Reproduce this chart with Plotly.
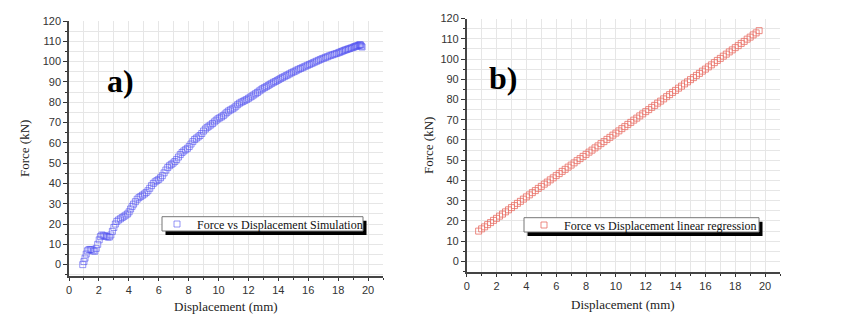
import plotly.graph_objects as go

# ---- data: (a) simulation ----
sim_x = [0.92, 1.0, 1.07, 1.15, 1.23, 1.33, 1.43, 1.52, 1.62, 1.72, 1.82, 1.92, 2.02, 2.1, 2.2,
         2.3, 2.4, 2.5, 2.6, 2.7, 2.8, 2.9, 3.0, 3.1, 3.2, 3.32, 3.44, 3.56, 3.68, 3.8, 3.92,
         4.02, 4.12, 4.22, 4.32, 4.44, 4.56, 4.68, 4.8, 4.92, 5.04, 5.16, 5.28, 5.4, 5.52,
         5.64, 5.76, 5.88, 6.0, 6.12, 6.24, 6.36, 6.48, 6.6, 6.72, 6.84, 6.96, 7.08, 7.2,
         7.32, 7.44, 7.56, 7.68, 7.8, 7.92, 8.04, 8.16, 8.28, 8.4, 8.52, 8.64, 8.76, 8.88,
         9.0, 9.12, 9.24, 9.36, 9.48, 9.6, 9.72, 9.84, 9.96, 10.08, 10.2, 10.32, 10.44, 10.56,
         10.68, 10.8, 10.92, 11.04, 11.16, 11.28, 11.4, 11.52, 11.64, 11.76, 11.88, 12.0,
         12.12, 12.24, 12.36, 12.48, 12.6, 12.72, 12.84, 12.96, 13.08, 13.2, 13.32, 13.44,
         13.56, 13.68, 13.8, 13.92, 14.04, 14.16, 14.28, 14.4, 14.52, 14.64, 14.76, 14.88,
         15.0, 15.12, 15.24, 15.36, 15.48, 15.6, 15.72, 15.84, 15.96, 16.08, 16.2, 16.32,
         16.44, 16.56, 16.68, 16.8, 16.92, 17.04, 17.16, 17.28, 17.4, 17.52, 17.64, 17.76,
         17.88, 18.0, 18.1, 18.2, 18.3, 18.4, 18.5, 18.6, 18.7, 18.8, 18.9, 19.0, 19.08,
         19.16, 19.24, 19.32, 19.4, 19.45, 19.5, 19.55, 19.6]
sim_y = [0.0, 1.5, 3.2, 5.2, 6.8, 7.4, 7.5, 7.3, 6.8, 6.6, 8.0, 10.0, 12.2, 13.8, 14.6,
         14.4, 14.1, 13.9, 13.6, 13.6, 14.6, 16.4, 18.3, 20.0, 21.3, 22.0, 22.6, 23.2, 23.8,
         24.4, 25.0, 26.0, 27.4, 28.7, 29.8, 31.0, 32.2, 33.0, 33.6, 34.2, 34.8, 35.5, 36.4,
         37.6, 38.9, 40.0, 40.8, 41.4, 42.0, 42.8, 43.8, 45.2, 46.6, 47.8, 48.7, 49.4, 50.0,
         50.8, 51.8, 53.0, 54.2, 55.2, 56.0, 56.6, 57.3, 58.2, 59.4, 60.6, 61.6, 62.3, 62.9,
         63.6, 64.6, 65.8, 66.8, 67.6, 68.2, 68.8, 69.5, 70.3, 71.1, 71.8, 72.3, 72.8, 73.4,
         74.2, 75.0, 75.7, 76.2, 76.7, 77.2, 78.0, 78.8, 79.5, 80.0, 80.4, 80.9, 81.3, 81.9,
         82.5, 83.0, 83.6, 84.2, 84.8, 85.5, 86.1, 86.7, 87.2, 87.7, 88.2, 88.8, 89.3, 89.8,
         90.2, 90.7, 91.2, 91.7, 92.2, 92.6, 93.1, 93.5, 94.0, 94.5, 94.9, 95.3, 95.8, 96.2,
         96.6, 97.0, 97.4, 97.8, 98.2, 98.6, 99.0, 99.4, 99.8, 100.2, 100.6, 101.0, 101.4,
         101.7, 102.1, 102.4, 102.8, 103.1, 103.4, 103.7, 104.0, 104.3, 104.6, 104.9, 105.2,
         105.5, 105.8, 106.0, 106.3, 106.5, 106.8, 107.0, 107.3, 107.5, 107.7, 107.9, 108.1,
         108.3, 108.2, 107.6, 107.2]

# ---- data: (b) linear regression ----
reg_x = [round(0.8 + 0.2 * k, 1) for k in range(95)]
reg_y = [15.0, 16.1, 17.1, 18.2, 19.2, 20.3, 21.3, 22.4, 23.4, 24.5, 25.5, 26.6, 27.6, 28.7,
         29.7, 30.8, 31.9, 32.9, 34.0, 35.0, 36.1, 37.1, 38.2, 39.2, 40.3, 41.3, 42.4, 43.4,
         44.5, 45.5, 46.6, 47.6, 48.7, 49.8, 50.8, 51.9, 52.9, 54.0, 55.0, 56.1, 57.1, 58.2,
         59.2, 60.3, 61.3, 62.4, 63.4, 64.5, 65.6, 66.6, 67.7, 68.7, 69.8, 70.8, 71.9, 72.9,
         74.0, 75.0, 76.1, 77.1, 78.2, 79.2, 80.3, 81.4, 82.4, 83.5, 84.5, 85.6, 86.6, 87.7,
         88.7, 89.8, 90.8, 91.9, 92.9, 94.0, 95.0, 96.1, 97.1, 98.2, 99.3, 100.3, 101.4,
         102.4, 103.5, 104.5, 105.6, 106.6, 107.7, 108.7, 109.8, 110.8, 111.9, 112.9, 114.0]

x_tick_vals = [0, 2, 4, 6, 8, 10, 12, 14, 16, 18, 20]
y_tick_vals = [0, 10, 20, 30, 40, 50, 60, 70, 80, 90, 100, 110, 120]
x_title = "Displacement (mm)"
y_title = "Force (kN)"
name_a = "Force vs Displacement Simulation"
name_b = "Force vs Displacement linear regression"

# the page body has an 8px margin: build the figure 8px smaller and offset coords
OFF = 8
W, H = 845 - OFF, 320 - OFF
def px(x):
    return (x - OFF) / W
def py(y):
    return 1 - (y - OFF) / H

fig = go.Figure()
fig.add_trace(go.Scatter(
    x=sim_x, y=sim_y, mode="markers", name=name_a, xaxis="x", yaxis="y",
    marker=dict(symbol="square-open", size=6, color="rgba(80,80,240,0.6)",
                line=dict(width=1)),
    legend="legend"))
fig.add_trace(go.Scatter(
    x=reg_x, y=reg_y, mode="markers", name=name_b, xaxis="x2", yaxis="y2",
    marker=dict(symbol="square-open", size=6, color="rgba(232,110,100,0.8)",
                line=dict(width=1)),
    legend="legend2"))

tickfont = dict(family="Liberation Sans, Arial, sans-serif", size=11, color="#333")
gridc = "#e6e6e6"

def xax(domain, anchor):
    return dict(domain=domain, anchor=anchor, range=[0, 21], tickvals=x_tick_vals,
                automargin=False,
                ticks="outside", ticklen=3, tickwidth=1, tickcolor="#333",
                showline=True, linecolor="#444", linewidth=1.5,
                showgrid=True, gridcolor=gridc, gridwidth=1, zeroline=False,
                tickfont=tickfont,
                minor=dict(dtick=1, showgrid=True, gridcolor=gridc, ticks="outside",
                           ticklen=2, tickcolor="#333"))

def yax(domain, anchor, rng):
    return dict(domain=domain, anchor=anchor, range=rng, tickvals=y_tick_vals,
                automargin=False,
                ticks="outside", ticklen=4, tickwidth=1, tickcolor="#333",
                showline=True, linecolor="#444", linewidth=1.5,
                showgrid=True, gridcolor=gridc, gridwidth=1, zeroline=False,
                tickfont=tickfont,
                minor=dict(dtick=5, showgrid=True, gridcolor=gridc, ticks="outside",
                           ticklen=2, tickcolor="#333"))

def mirror_x(over, anchor):
    return dict(overlaying=over, anchor=anchor, side="top", range=[0, 21],
                automargin=False,
                tickvals=x_tick_vals, ticks="inside", ticklen=4, tickcolor="#333",
                showticklabels=False, showgrid=False, zeroline=False,
                showline=True, linecolor="#444", linewidth=1.5,
                minor=dict(dtick=1, ticks="inside", ticklen=2, tickcolor="#333"))

def mirror_y(over, anchor, rng):
    return dict(overlaying=over, anchor=anchor, side="right", range=rng,
                automargin=False,
                tickvals=y_tick_vals, ticks="inside", ticklen=4, tickcolor="#333",
                showticklabels=False, showgrid=False, zeroline=False,
                showline=True, linecolor="#444", linewidth=1.5,
                minor=dict(dtick=5, ticks="inside", ticklen=2, tickcolor="#333"))

ya_rng = [-5.6, 120]
yb_rng = [-5.2, 120]
dom_xa = [px(69), px(383)]
dom_xb = [px(466.7), px(780)]
dom_ya = [py(276), py(21)]
dom_yb = [py(272), py(18.5)]

serif = "Liberation Serif, Times New Roman, serif"

fig.update_layout(
    width=W, height=H,
    margin=dict(l=0, r=0, t=0, b=0, autoexpand=False),
    paper_bgcolor="white", plot_bgcolor="white",
    xaxis=xax(dom_xa, "y"),
    yaxis=yax(dom_ya, "x", ya_rng),
    xaxis2=xax(dom_xb, "y2"),
    yaxis2=yax(dom_yb, "x2", yb_rng),
    xaxis3=mirror_x("x", "y"),
    yaxis3=mirror_y("y", "x", ya_rng),
    xaxis4=mirror_x("x2", "y2"),
    yaxis4=mirror_y("y2", "x2", yb_rng),
    legend=dict(x=px(157), y=py(224), xanchor="left", yanchor="middle",
                bgcolor="rgba(0,0,0,0)", borderwidth=0,
                font=dict(family=serif, size=12, color="#111"),
                itemwidth=30, tracegroupgap=0),
    legend2=dict(x=px(524), y=py(225), xanchor="left", yanchor="middle",
                 bgcolor="rgba(0,0,0,0)", borderwidth=0,
                 font=dict(family=serif, size=12, color="#111"),
                 itemwidth=30, tracegroupgap=0),
    showlegend=True,
)

# legend boxes with drop shadow
for (x0, y0, x1, y1) in [(162, 216.7, 363, 231), (524, 217.7, 759, 232)]:
    fig.add_shape(type="rect", xref="paper", yref="paper",
                  x0=px(x0 + 3.5), x1=px(x1 + 3.5), y0=py(y1 + 4), y1=py(y0 + 4),
                  fillcolor="black", line=dict(width=0), layer="above")
    fig.add_shape(type="rect", xref="paper", yref="paper",
                  x0=px(x0), x1=px(x1), y0=py(y1), y1=py(y0),
                  fillcolor="white", line=dict(color="#777", width=1), layer="above")

# axis titles & panel labels
for (xc, yc, txt) in [(226, 306, x_title), (623, 304, x_title)]:
    fig.add_annotation(x=px(xc), y=py(yc), xref="paper", yref="paper", text=txt,
                       xanchor="center", yanchor="middle",
                       showarrow=False, font=dict(family=serif, size=13, color="#222"))
for (xc, yc) in [(24, 148), (428, 145)]:
    fig.add_annotation(x=px(xc), y=py(yc), xref="paper", yref="paper", text=y_title,
                       xanchor="center", yanchor="middle",
                       textangle=-90, showarrow=False,
                       font=dict(family=serif, size=13, color="#222"))
for (xc, yc, txt) in [(120, 81, "a)"), (503, 78, "b)")]:
    fig.add_annotation(x=px(xc), y=py(yc), xref="paper", yref="paper",
                       text="<b>%s</b>" % txt, showarrow=False,
                       xanchor="center", yanchor="middle",
                       font=dict(family=serif, size=32, color="black"))

fig.write_html("out.html")
